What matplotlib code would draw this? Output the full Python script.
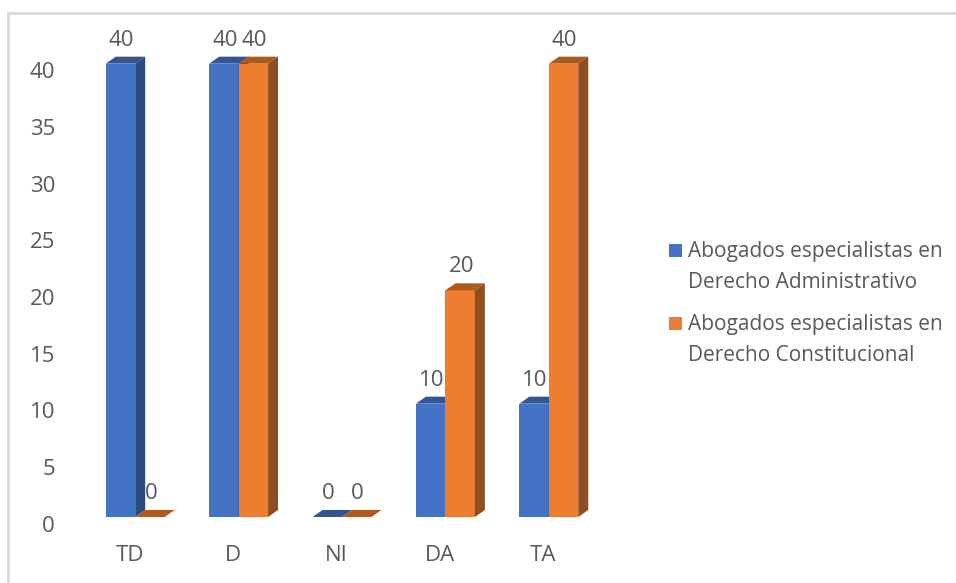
import numpy as np
import matplotlib
matplotlib.use("Agg")
import matplotlib.pyplot as plt
from matplotlib.patches import Rectangle
from matplotlib.transforms import ScaledTranslation

categories = ["TD", "D", "NI", "DA", "TA"]
administrativo = [40, 40, 0, 10, 10]
constitucional = [0, 40, 0, 20, 40]
series_names = ["Abogados especialistas en\nDerecho Administrativo",
                "Abogados especialistas en\nDerecho Constitucional"]
yticks = [0, 5, 10, 15, 20, 25, 30, 35, 40]

W, H = 956, 583
GREY = "#595959"
BLUE = ("#4472C4", "#335693", "#2A4A80")  # front, top, side
ORANGE = ("#ED7D31", "#AD5A20", "#8F4E1D")
plt.rcParams["font.family"] = "Open Sans"

fig = plt.figure(figsize=(W / 100, H / 100), dpi=100)
ax = fig.add_axes([83.5 / W, (H - 517) / H, 517 / W, 510 / H])
ax.set_xlim(-0.5, 4.5)
ax.set_ylim(0, 45)
for s in ax.spines.values():
    s.set_visible(False)

# fake 3d depth, same as the excel style
bar_w = 0.285
dx = 10 / 103.4
dy = 7 / 11.33


def bar3d(x, v, colors):
    ax.bar(x, v, bar_w, color=colors[0], linewidth=0, zorder=3)
    left = x - bar_w / 2
    right = x + bar_w / 2
    ax.fill([left, right, right + dx, left + dx], [v, v, v + dy, v + dy],
            color=colors[1], linewidth=0, zorder=3, clip_on=False)
    if v > 0:
        ax.fill([right, right + dx, right + dx, right], [0, dy, v + dy, v],
                color=colors[2], linewidth=0, zorder=3, clip_on=False)


def label(x, v):
    ax.annotate(str(v), (x, v), xytext=(1, 23.5), textcoords="offset pixels",
                ha="center", va="center", fontsize=16, color=GREY, zorder=5)


pos = np.arange(len(categories))
for i in pos:
    bar3d(i - bar_w / 2, administrativo[i], BLUE)
    bar3d(i + bar_w / 2, constitucional[i], ORANGE)
for i in pos:
    label(i - bar_w / 2, administrativo[i])
    label(i + bar_w / 2, constitucional[i])

ax.set_yticks(yticks)
ax.set_xticks(pos, categories)
ax.tick_params(axis="y", length=0, pad=20.5, labelsize=16, labelcolor=GREY)
ax.tick_params(axis="x", length=0, pad=20.5, labelsize=16, labelcolor=GREY)
down = ScaledTranslation(0, -0.065, fig.dpi_scale_trans)
shift = ScaledTranslation(-0.055, 0, fig.dpi_scale_trans)
for t in ax.get_yticklabels():
    t.set_transform(t.get_transform() + down)
for t in ax.get_xticklabels():
    t.set_transform(t.get_transform() + shift)

# legend by hand, the square sits on the first line of each entry
for name, colors, top in zip(series_names, (BLUE, ORANGE), (244, 317)):
    fig.add_artist(Rectangle((669 / W, 1 - (top + 13) / H), 13 / W, 13 / H,
                             transform=fig.transFigure, color=colors[0], linewidth=0))
    fig.text(688 / W, 1 - (top + 23) / H, name, ha="left", va="center",
             fontsize=15, color=GREY, linespacing=1.63)

# thin grey frame, only top and left are inside the picture
fig.add_artist(Rectangle((8 / W, -0.1), 1.2, 1.1 - 13 / H, transform=fig.transFigure,
                         fill=False, edgecolor="#D9D9D9", linewidth=2))

fig.savefig("out.png", dpi=100)
